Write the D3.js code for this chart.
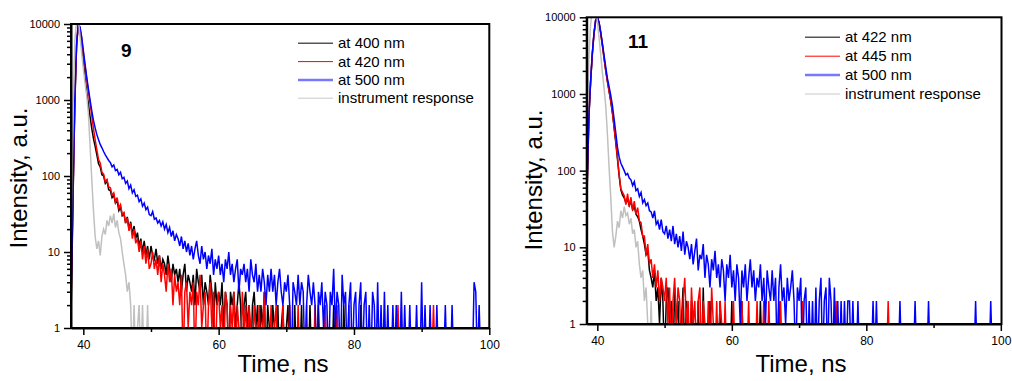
<!DOCTYPE html>
<html>
<head>
<meta charset="utf-8">
<script src="https://cdn.jsdelivr.net/npm/d3@7"></script>
<style>
  body { margin: 0; background: #fff; }
  svg { display: block; font-family: Arial, "Liberation Sans", sans-serif; }
</style>
</head>
<body>
<svg id="chart" width="1012" height="381"></svg>
<script>
// Channel grid of the TCSPC histograms (ns)
const channelStart = 38.0;
const channelWidth = 0.25;

// Axis ticks
const yTicks = [1, 10, 100, 1000, 10000];
const xTicks = [40, 60, 80, 100];
const xMinorTicks = [50, 70, 90];

// Panel "9"
const legend9 = ['at 400 nm', 'at 420 nm', 'at 500 nm', 'instrument response'];
const panel9At400 = [
  0, 3, 60, 900, 5000, 9800, 8500, 5500,
  3300, 2000, 1300, 880, 600, 420, 310, 245,
  190, 145, 132, 104, 100, 80, 86, 66,
  64, 52, 56, 44, 47, 35, 39, 30,
  32, 24, 29, 20, 25, 17, 22, 15,
  18, 12, 15, 10, 14, 9, 12, 8,
  12, 9, 8, 11, 7, 9, 6, 8,
  7, 5, 9, 6, 4, 7, 5, 6,
  4, 6, 3, 5, 7, 3, 5, 4,
  3, 5, 2, 6, 4, 3, 5, 2,
  4, 3, 2, 5, 3, 1, 4, 2,
  3, 2, 4, 1, 3, 2, 0, 3,
  2, 3, 1, 2, 4, 2, 0, 2,
  3, 1, 2, 0, 2, 3, 1, 2,
  0, 2, 1, 3, 0, 2, 1, 0,
  2, 1, 0, 2, 0, 1, 2, 0,
  1, 2, 0, 1, 0, 2, 0, 1,
  0, 2, 0, 0, 1, 0, 2, 0,
  1, 0, 0, 2, 0, 1, 0, 0,
  0, 1, 0, 0, 2, 0, 0, 0,
  0, 0, 2, 0, 0, 0, 1, 0,
  0, 0, 0, 0, 2, 0, 0, 0
];
const panel9At420 = [
  0, 4, 70, 1000, 5200, 9900, 9000, 6500,
  4200, 2800, 1900, 1300, 900, 620, 420, 300,
  220, 165, 148, 112, 106, 84, 90, 72,
  70, 56, 60, 45, 52, 38, 42, 31,
  33, 24, 28, 19, 24, 15, 20, 13,
  15, 10, 14, 8, 12, 7, 11, 6,
  7, 10, 6, 8, 5, 9, 4, 7,
  5, 3, 7, 4, 6, 2, 5, 3,
  4, 2, 5, 0, 3, 4, 1, 3,
  2, 4, 0, 3, 2, 5, 1, 2,
  3, 0, 2, 4, 1, 3, 0, 2,
  3, 1, 2, 0, 3, 2, 0, 2,
  1, 3, 0, 2, 1, 0, 3, 1,
  2, 0, 2, 1, 0, 2, 1, 0,
  2, 0, 1, 3, 0, 1, 0, 2,
  0, 1, 2, 0, 1, 0, 2, 0,
  1, 0, 2, 0, 0, 1, 0, 2,
  0, 0, 1, 0, 2, 0, 0, 1,
  0, 2, 0, 0, 1, 0, 0, 2,
  0, 0, 1, 0, 0, 0, 2, 0,
  0, 1, 0, 0, 0, 2, 0, 0,
  0, 0, 0, 1, 0, 0, 0, 0,
  0, 0, 0, 0, 0, 0, 0, 0,
  0, 0, 0, 0, 0, 0, 0, 0,
  0, 0, 2, 0, 0, 0, 0, 0,
  0, 0, 0, 0, 0, 0, 0, 0,
  0, 0, 0, 0, 0, 0, 0, 2,
  0
];
const panel9At500 = [
  0, 5, 80, 1100, 5500, 9900, 9200, 6800,
  4500, 3000, 2000, 1400, 1000, 720, 540, 430,
  350, 300, 260, 235, 210, 190, 175, 160,
  150, 132, 140, 118, 122, 104, 112, 92,
  96, 80, 86, 68, 76, 60, 66, 54,
  56, 46, 50, 40, 44, 36, 39, 31,
  30, 34, 27, 28, 24, 26, 22, 25,
  20, 23, 18, 21, 16, 19, 14, 17,
  15, 12, 16, 11, 14, 10, 13, 9,
  12, 8, 11, 14, 9, 7, 12, 8,
  10, 6, 9, 7, 11, 5, 8, 6,
  9, 5, 7, 4, 8, 6, 10, 5,
  7, 4, 6, 8, 3, 6, 5, 7,
  4, 6, 3, 8, 5, 4, 7, 3,
  5, 3, 6, 4, 2, 5, 3, 6,
  3, 5, 2, 4, 6, 3, 2, 4,
  3, 5, 2, 0, 4, 3, 2, 5,
  2, 4, 3, 0, 2, 5, 3, 2,
  4, 2, 0, 3, 2, 4, 1, 3,
  2, 0, 3, 2, 6, 1, 3, 2,
  0, 5, 2, 3, 0, 2, 4, 0,
  2, 3, 0, 2, 4, 0, 2, 3,
  0, 2, 0, 3, 2, 0, 4, 0,
  2, 0, 3, 0, 2, 0, 0, 2,
  0, 2, 0, 0, 3, 0, 2, 0,
  0, 2, 0, 0, 0, 2, 0, 0,
  4, 0, 2, 0, 0, 2, 0, 0,
  0, 2, 0, 0, 0, 0, 2, 0,
  0, 0, 2, 0, 0, 0, 0, 0,
  0, 0, 0, 0, 0, 0, 0, 4,
  3, 0, 2, 0, 0, 0, 0, 0
];
const panel9Irf = [
  0, 30, 900, 6000, 11000, 12000, 7000, 4200,
  2600, 1700, 1150, 650, 250, 90, 35, 16,
  11, 14, 9, 16, 20, 17, 26, 22,
  30, 24, 32, 21, 26, 18, 15, 10,
  7, 5, 3, 4, 2, 0, 2, 0,
  1, 2, 0, 2, 0, 0, 2, 0
];

// Panel "11"
const legend11 = ['at 422 nm', 'at 445 nm', 'at 500 nm', 'instrument response'];
const panel11At422 = [
  0, 1, 60, 500, 1400, 3200, 6000, 9000,
  9900, 8500, 6200, 4300, 2900, 2000, 1450, 1080,
  800, 560, 360, 230, 140, 85, 56, 48,
  44, 38, 42, 35, 40, 31, 34, 27,
  25, 22, 17, 14, 11, 8, 9, 5,
  4, 3, 5, 2, 3, 1, 4, 2,
  0, 2, 3, 1, 2, 0, 3, 1,
  2, 0, 1, 3, 0, 2, 1, 0,
  2, 0, 1, 0, 2, 0, 0, 3,
  0, 1, 0, 2, 0, 0, 1, 0,
  0, 2, 0, 0, 0, 1, 0, 0,
  2, 0, 0, 0, 0, 0, 2, 0,
  0, 0, 0, 0, 0, 0, 0, 0,
  0, 2, 0, 0, 0, 0, 0, 0,
  0, 0, 0, 0, 2, 0, 0, 0
];
const panel11At445 = [
  0, 2, 70, 520, 1450, 3300, 6100, 9100,
  9900, 8600, 6300, 4400, 3000, 2050, 1480, 1100,
  820, 580, 370, 240, 150, 88, 58, 52,
  47, 36, 50, 34, 45, 30, 40, 27,
  33, 22, 21, 14, 14, 8, 11, 6,
  7, 4, 6, 3, 5, 2, 4, 3,
  2, 4, 1, 3, 0, 2, 4, 1,
  3, 2, 0, 2, 4, 1, 2, 0,
  3, 1, 2, 0, 2, 3, 0, 2,
  1, 0, 2, 0, 3, 1, 0, 2,
  0, 2, 1, 0, 2, 0, 0, 1,
  0, 2, 0, 0, 1, 0, 2, 0,
  0, 0, 2, 0, 0, 0, 0, 2,
  0, 0, 0, 2, 0, 0, 2, 0,
  0, 0, 0, 0, 0, 2, 0, 0,
  0, 0, 0, 0, 0, 0, 0, 0,
  0, 0, 2, 0, 0, 0, 0, 0,
  0, 0, 0, 0, 0, 0, 0, 0,
  0, 0, 0, 0, 0, 0, 2, 0,
  0, 0, 0, 0, 0, 0, 0, 0,
  0, 0, 0, 0, 0, 0, 0, 0,
  0, 0, 0, 0, 0, 0, 0, 0,
  0, 0, 0, 0, 0, 2, 0, 0
];
const panel11At500 = [
  0, 2, 80, 540, 1500, 3400, 6200, 9200,
  9900, 8700, 6500, 4600, 3200, 2250, 1600, 1250,
  960, 700, 470, 310, 200, 150, 125, 112,
  100, 88, 92, 80, 76, 64, 72, 55,
  58, 46, 52, 38, 42, 35, 38, 30,
  29, 24, 30, 20, 22, 17, 23, 16,
  15, 19, 13, 17, 12, 19, 11, 15,
  10, 14, 9, 16, 8, 12, 10, 7,
  11, 6, 9, 13, 5, 8, 7, 11,
  4, 8, 6, 3, 7, 5, 9, 4,
  6, 3, 7, 5, 2, 6, 4, 8,
  3, 5, 2, 6, 4, 1, 5, 3,
  6, 2, 4, 7, 3, 5, 2, 4,
  3, 6, 2, 4, 1, 5, 3, 2,
  5, 2, 4, 0, 3, 6, 2, 3,
  1, 4, 2, 3, 5, 2, 0, 3,
  2, 4, 0, 2, 3, 0, 2, 0,
  2, 0, 3, 0, 2, 4, 0, 2,
  3, 0, 4, 2, 0, 3, 0, 2,
  0, 2, 0, 2, 0, 2, 2, 0,
  2, 0, 0, 2, 0, 0, 0, 0,
  0, 0, 0, 0, 2, 0, 2, 0,
  0, 0, 0, 0, 0, 0, 0, 0,
  0, 0, 0, 0, 2, 0, 0, 0,
  0, 0, 0, 0, 0, 2, 0, 0,
  0, 0, 0, 0, 0, 2, 0, 0,
  0, 0, 0, 0, 0, 0, 0, 0,
  0, 0, 0, 0, 0, 0, 0, 0,
  0, 0, 0, 0, 0, 0, 0, 0,
  0, 2, 0, 0, 0, 0, 0, 0,
  0, 0, 2, 0, 0, 0, 0, 0
];
const panel11Irf = [
  0, 20, 500, 3000, 8000, 13000, 15000, 13000,
  9000, 5500, 3300, 1900, 1200, 700, 300, 110,
  45, 16, 10, 14, 22, 18, 30, 24,
  34, 26, 28, 20, 24, 15, 17, 10,
  12, 6, 4, 5, 2, 3, 1, 0,
  2, 0, 0, 1, 0
];

const colours = ['#000000', '#ff0000', '#0000ff', '#c0c0c0'];
const legendStroke = ['#555555', '#ff0000', '#7878ff', '#c8c8c8'];
const legendWidth = [1.5, 1, 2.5, 1];

const panels = [
  {
    id: 'p9', tag: '9', series: [panel9At400, panel9At420, panel9At500, panel9Irf], labels: legend9,
    left: 71, right: 489.3, top: 24, bottom: 328, xDomain: [38.18, 100],
    tagX: 121, tagY: 57, legendX: 298, legendY: 43.3, legendStep: 18.3,
    xTitleX: 283, yTitleX: 27, yTitleY: 178
  },
  {
    id: 'p11', tag: '11', series: [panel11At422, panel11At445, panel11At500, panel11Irf], labels: legend11,
    left: 586.7, right: 1001.5, top: 17.3, bottom: 324, xDomain: [38.42, 100.1],
    tagX: 628, tagY: 48, legendX: 805, legendY: 37.3, legendStep: 18.9,
    xTitleX: 801, yTitleX: 542, yTitleY: 180
  }
];

const svg = d3.select('#chart');

panels.forEach((p) => {
  const x = d3.scaleLinear().domain(p.xDomain).range([p.left, p.right]);
  const y = d3.scaleLog().domain([1, 10000]).range([p.bottom, p.top]);
  const g = svg.append('g').attr('class', 'panel');

  g.append('clipPath')
    .attr('id', `clip-${p.id}`)
    .append('rect')
    .attr('x', p.left)
    .attr('y', p.top)
    .attr('width', p.right - p.left)
    .attr('height', p.bottom - p.top);

  // zero counts fall below the log axis and are clipped, like Origin does
  const line = d3.line()
    .x((d, i) => x(channelStart + i * channelWidth))
    .y((d) => y(Math.max(d, 0.3)));

  g.append('g')
    .attr('clip-path', `url(#clip-${p.id})`)
    .selectAll('path')
    .data(p.series)
    .join('path')
    .attr('d', (d) => line(d))
    .attr('fill', 'none')
    .attr('stroke', (d, i) => colours[i])
    .attr('stroke-width', 1.5)
    .attr('stroke-linejoin', 'miter');

  // Axes
  const yAxis = g.append('g')
    .attr('transform', `translate(${p.left},0)`)
    .call(d3.axisLeft(y).tickValues(yTicks).tickSize(7).tickPadding(4).tickSizeOuter(0).tickFormat(d3.format('d')));
  g.append('g')
    .attr('transform', `translate(${p.left},0)`)
    .call(d3.axisLeft(y).tickValues(y.ticks().filter((t) => !yTicks.includes(t))).tickSize(4).tickFormat(''))
    .call((a) => a.select('.domain').remove());

  const xAxis = g.append('g')
    .attr('transform', `translate(0,${p.bottom})`)
    .call(d3.axisBottom(x).tickValues(xTicks).tickSize(7).tickPadding(5).tickSizeOuter(0).tickFormat(d3.format('d')));
  g.append('g')
    .attr('transform', `translate(0,${p.bottom})`)
    .call(d3.axisBottom(x).tickValues(xMinorTicks).tickSize(4).tickFormat(''))
    .call((a) => a.select('.domain').remove());

  g.selectAll('.tick line').attr('stroke', '#000').attr('stroke-width', 1.5);
  g.selectAll('.domain').attr('stroke-width', 2);
  yAxis.selectAll('text').style('font-size', '11px').attr('fill', '#000');
  xAxis.selectAll('text').style('font-size', '12px').attr('fill', '#000');

  // Frame
  g.append('rect')
    .attr('x', p.left)
    .attr('y', p.top)
    .attr('width', p.right - p.left)
    .attr('height', p.bottom - p.top)
    .attr('fill', 'none')
    .attr('stroke', '#000')
    .attr('stroke-width', 2);

  // Titles
  g.append('text')
    .attr('x', p.xTitleX)
    .attr('y', 372)
    .attr('text-anchor', 'middle')
    .style('font-size', '24px')
    .text('Time, ns');

  g.append('text')
    .attr('transform', `translate(${p.yTitleX},${p.yTitleY}) rotate(-90)`)
    .attr('text-anchor', 'middle')
    .style('font-size', '24px')
    .text('Intensity, a.u.');

  g.append('text')
    .attr('x', p.tagX)
    .attr('y', p.tagY)
    .style('font-size', '19px')
    .style('font-weight', 'bold')
    .text(p.tag);

  // Legend
  const items = g.append('g')
    .selectAll('g')
    .data(p.labels)
    .join('g')
    .attr('transform', (d, i) => `translate(${p.legendX},${p.legendY + i * p.legendStep})`);

  items.append('line')
    .attr('x1', 0)
    .attr('x2', 35)
    .attr('stroke', (d, i) => legendStroke[i])
    .attr('stroke-width', (d, i) => legendWidth[i]);

  items.append('text')
    .attr('x', 40)
    .attr('y', 5)
    .style('font-size', '15px')
    .text((d) => d);
});
</script>
</body>
</html>
